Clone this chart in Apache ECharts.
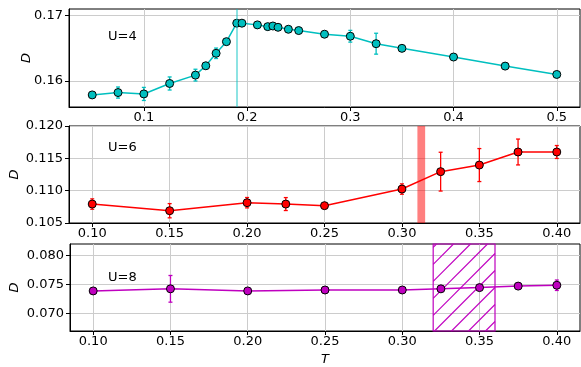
<!DOCTYPE html>
<html>
<head>
<meta charset="utf-8">
<script src="https://cdn.jsdelivr.net/npm/echarts@6/dist/echarts.min.js"></script>
<style>
html,body{margin:0;padding:0;background:#fff;}
#c{width:581px;height:367px;}
</style>
</head>
<body>
<div id="c"></div>
<script>
// ---- data ----
const topT = [0.05, 0.075, 0.1, 0.125, 0.15, 0.16, 0.17, 0.18, 0.19, 0.195, 0.21, 0.22, 0.225, 0.23, 0.24, 0.25, 0.275, 0.3, 0.325, 0.35, 0.4, 0.45, 0.5];
const topD = [0.15785, 0.15821, 0.1580, 0.1596, 0.16088, 0.16231, 0.16422, 0.1660, 0.16883, 0.16883, 0.16857, 0.1683, 0.1684, 0.1682, 0.1679, 0.1677, 0.16714, 0.16683, 0.16569, 0.16498, 0.16365, 0.16226, 0.16098];
const topErr = [0.0002, 0.00085, 0.001, 0.001, 0.0009, 0.00045, 0.0008, 0.0003, 0.0002, 0.0002, 0.0002, 0.0002, 0.0002, 0.0002, 0.0002, 0.0002, 0.0002, 0.0009, 0.0016, 0.0002, 0.0002, 0.0002, 0.0002];
const topTc = 0.19;

const midT = [0.10, 0.15, 0.20, 0.225, 0.25, 0.30, 0.325, 0.35, 0.375, 0.40];
const midD = [0.10793, 0.1069, 0.10814, 0.10793, 0.10768, 0.11025, 0.11294, 0.11396, 0.11598, 0.11598];
const midErr = [0.0008, 0.0011, 0.0008, 0.001, 0.0002, 0.0008, 0.003, 0.00255, 0.002, 0.001];
const midBand = [0.31, 0.315];

const botT = [0.10, 0.15, 0.20, 0.25, 0.30, 0.325, 0.35, 0.375, 0.40];
const botD = [0.07391, 0.07427, 0.07391, 0.07407, 0.07407, 0.07427, 0.07448, 0.07474, 0.07489];
const botErr = [0.0002, 0.0023, 0.0002, 0.0002, 0.0002, 0.0002, 0.0002, 0.0002, 0.0009];
const botBand = [0.32, 0.36];

const topXTicks = [0.1, 0.2, 0.3, 0.4, 0.5];
const topYTicks = [0.16, 0.17];
const xTicks = [0.10, 0.15, 0.20, 0.25, 0.30, 0.35, 0.40];
const midYTicks = [0.105, 0.110, 0.115, 0.120];
const botYTicks = [0.070, 0.075, 0.080];
const panelLabels = ['U=4', 'U=6', 'U=8'];

// ---- styling helpers ----
const FONT = 'DejaVu Sans';
const CYAN = '#00bfbf', RED = '#ff0000', MAG = '#bf00bf';

function zip(a, b) { return a.map((v, i) => [v, b[i]]); }
function zip3(a, b, c) { return a.map((v, i) => [v, b[i], c[i]]); }

function xAxisCfg(gi, min, max, ticks, dec, name) {
  return {
    type: 'value', gridIndex: gi, min: min, max: max,
    axisLine: {show: true, lineStyle: {color: '#000', width: 1}},
    axisTick: {show: true, length: 4, inside: false, customValues: ticks, lineStyle: {color: '#000'}},
    axisLabel: {customValues: ticks, margin: 4, color: '#000', fontSize: 13, fontFamily: FONT,
      formatter: v => v.toFixed(dec)},
    splitLine: {show: true, lineStyle: {color: '#cccccc', width: 1}},
    name: name || '', nameLocation: 'middle', nameGap: 22, nameMoveOverlap: false,
    nameTextStyle: {fontStyle: 'italic', fontSize: 13, fontFamily: FONT, color: '#000'}
  };
}
function yAxisCfg(gi, min, max, ticks, dec, gap) {
  return {
    type: 'value', gridIndex: gi, min: min, max: max,
    axisLine: {show: true, lineStyle: {color: '#000', width: 1}},
    axisTick: {show: true, length: 4, inside: false, customValues: ticks, lineStyle: {color: '#000'}},
    axisLabel: {customValues: ticks, margin: 6, color: '#000', fontSize: 13, fontFamily: FONT,
      formatter: v => v.toFixed(dec)},
    splitLine: {show: true, lineStyle: {color: '#cccccc', width: 1}},
    name: 'D', nameLocation: 'middle', nameGap: gap, nameRotate: 90, nameMoveOverlap: false,
    nameTextStyle: {fontStyle: 'italic', fontSize: 13, fontFamily: FONT, color: '#000'}
  };
}

function errSeries(idx, data, color) {
  return {
    type: 'custom', xAxisIndex: idx, yAxisIndex: idx, z: 2,
    data: data, encode: {x: 0, y: 1},
    renderItem: function (params, api) {
      const x = api.value(0), y = api.value(1), e = api.value(2);
      const lo = api.coord([x, y - e]);
      const hi = api.coord([x, y + e]);
      const cw = 2;
      const st = {stroke: color, lineWidth: 1.3, fill: null};
      return {type: 'group', children: [
        {type: 'line', shape: {x1: lo[0], y1: lo[1], x2: hi[0], y2: hi[1]}, style: st},
        {type: 'line', shape: {x1: lo[0] - cw, y1: lo[1], x2: lo[0] + cw, y2: lo[1]}, style: st},
        {type: 'line', shape: {x1: hi[0] - cw, y1: hi[1], x2: hi[0] + cw, y2: hi[1]}, style: st}
      ]};
    }
  };
}
function lineSeries(idx, data, color, extra) {
  return Object.assign({
    type: 'line', xAxisIndex: idx, yAxisIndex: idx, z: 3,
    data: data, symbol: 'circle', symbolSize: 8, showSymbol: true,
    lineStyle: {color: color, width: 1.5},
    itemStyle: {color: color, borderColor: '#000', borderWidth: 1},
    emphasis: {disabled: true}, animation: false
  }, extra || {});
}
// hatched vertical band spanning full plot height (x-range from data, via the axis scale)
function hatchSeries(idx, band, color) {
  return {
    type: 'custom', xAxisIndex: idx, yAxisIndex: idx, z: 1, silent: true,
    data: [[band[0], band[1]]], encode: {x: [0, 1]},
    renderItem: function (params, api) {
      const cs = params.coordSys;
      const x0 = api.coord([api.value(0), 0])[0];
      const x1 = api.coord([api.value(1), 0])[0];
      const y0 = cs.y, y1 = cs.y + cs.height;
      const step = 17;
      const children = [];
      const cStart = Math.ceil((x0 + y0) / step) * step + 0.5;
      for (let c = cStart; c <= x1 + y1; c += step) {
        const xa = Math.max(x0, c - y1);
        const xb = Math.min(x1, c - y0);
        if (xb > xa) {
          children.push({type: 'line', shape: {x1: xa, y1: c - xa, x2: xb, y2: c - xb},
            style: {stroke: '#c000c0', lineWidth: 1.1}});
        }
      }
      children.push({type: 'rect', shape: {x: x0, y: y0, width: x1 - x0, height: y1 - y0},
        style: {stroke: color, lineWidth: 1.2, fill: null}});
      return {type: 'group', children: children};
    }
  };
}

const chart = echarts.init(document.getElementById('c'), null, {renderer: 'canvas'});
const option = {
  animation: false,
  backgroundColor: '#fff',
  grid: [
    {left: 69, top: 9, width: 511, height: 98, show: true, borderColor: '#000', borderWidth: 1, backgroundColor: 'transparent'},
    {left: 69, top: 126, width: 511, height: 97, show: true, borderColor: '#000', borderWidth: 1, backgroundColor: 'transparent'},
    {left: 69, top: 244, width: 511, height: 97, show: true, borderColor: '#000', borderWidth: 1, backgroundColor: 'transparent'}
  ],
  xAxis: [
    xAxisCfg(0, 0.0275, 0.5225, topXTicks, 1),
    xAxisCfg(1, 0.085, 0.415, xTicks, 2),
    xAxisCfg(2, 0.085, 0.415, xTicks, 2, 'T')
  ],
  yAxis: [
    yAxisCfg(0, 0.156, 0.171, topYTicks, 2, 36),
    yAxisCfg(1, 0.105, 0.120, midYTicks, 3, 48),
    yAxisCfg(2, 0.067, 0.082, botYTicks, 3, 49)
  ],
  graphic: [
    {type: 'text', left: 108, top: 30, style: {text: panelLabels[0], font: '13px "DejaVu Sans"', fill: '#000'}},
    {type: 'text', left: 108, top: 141, style: {text: panelLabels[1], font: '13px "DejaVu Sans"', fill: '#000'}},
    {type: 'text', left: 108, top: 271, style: {text: panelLabels[2], font: '13px "DejaVu Sans"', fill: '#000'}}
  ],
  series: [
    errSeries(0, zip3(topT, topD, topErr), CYAN),
    lineSeries(0, zip(topT, topD), CYAN, {
      markLine: {silent: true, symbol: 'none', label: {show: false},
        lineStyle: {color: 'rgba(0,191,191,0.6)', width: 1.5, type: 'solid'},
        data: [{xAxis: topTc}]}
    }),
    errSeries(1, zip3(midT, midD, midErr), RED),
    lineSeries(1, zip(midT, midD), RED, {
      markArea: {silent: true, itemStyle: {color: 'rgba(255,0,0,0.5)'},
        data: [[{xAxis: midBand[0]}, {xAxis: midBand[1]}]]}
    }),
    hatchSeries(2, botBand, MAG),
    errSeries(2, zip3(botT, botD, botErr), MAG),
    lineSeries(2, zip(botT, botD), MAG)
  ]
};
chart.setOption(option);
</script>
</body>
</html>
